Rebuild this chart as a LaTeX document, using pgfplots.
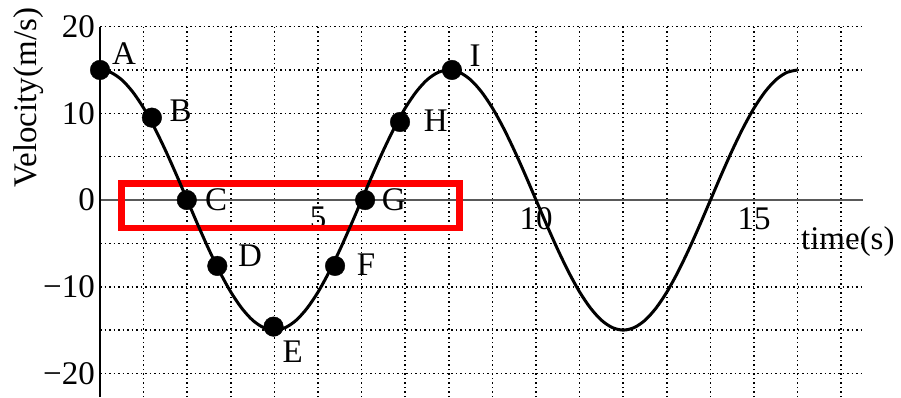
\documentclass[border=0pt]{standalone}
\usepackage{pgfplots}
\pgfplotsset{compat=1.18}
\usepackage{fontspec}
\setmainfont{Liberation Serif}
\newcommand{\bigf}{\fontsize{33}{38}\selectfont}
\begin{document}
\begin{tikzpicture}
\begin{axis}[
  scale only axis, width=763pt, height=370.4pt,
  xmin=0, xmax=17.5, ymin=-22.72, ymax=20,
  axis x line=middle, axis y line=left,
  x axis line style={-, draw=black!65, line width=1.4pt},
  y axis line style={-, draw=black, line width=1.4pt},
  xtick={5,10,15}, xticklabels={5,10,15},
  minor xtick={1,...,17},
  ytick={-20,-10,0,10,20}, yticklabels={−20,−10,0,10,20},
  minor ytick={-15,-5,5,15},
  grid=both,
  major grid style={black, line width=1.6pt, dash pattern=on 1.5pt off 3pt},
  minor grid style={black, line width=1.6pt, dash pattern=on 1.5pt off 3pt},
  major tick length=0pt, minor tick length=0pt,
  tick label style={font=\bigf, inner sep=0pt},
  xticklabel style={anchor=north, yshift=-7pt},
  yticklabel style={anchor=east, xshift=-5pt},
  clip=false,
]
% invisible frame giving the picture its size
\path (axis cs:-2.294,23.07) rectangle (axis cs:18.37,-22.72);
% red box
\addplot[red, line width=6.5pt, line join=miter] coordinates {(0.49,1.9) (8.25,1.9) (8.25,-3.23) (0.49,-3.23)} -- cycle;
% curve
\addplot[black, line width=3pt, smooth] coordinates {
(0,15) (0.25,14.71) (0.5,13.86) (0.75,12.47) (1,10.61) (1.25,8.33) (1.5,5.74) (1.75,2.93)
(2,0) (2.25,-2.93) (2.5,-5.74) (2.75,-8.33) (3,-10.61) (3.25,-12.47) (3.5,-13.86) (3.75,-14.71)
(4,-15) (4.25,-14.71) (4.5,-13.86) (4.75,-12.47) (5,-10.61) (5.25,-8.33) (5.5,-5.74) (5.75,-2.93)
(6,0) (6.25,2.93) (6.5,5.74) (6.75,8.33) (7,10.61) (7.25,12.47) (7.5,13.86) (7.75,14.71)
(8,15) (8.25,14.71) (8.5,13.86) (8.75,12.47) (9,10.61) (9.25,8.33) (9.5,5.74) (9.75,2.93)
(10,0) (10.25,-2.93) (10.5,-5.74) (10.75,-8.33) (11,-10.61) (11.25,-12.47) (11.5,-13.86) (11.75,-14.71)
(12,-15) (12.25,-14.71) (12.5,-13.86) (12.75,-12.47) (13,-10.61) (13.25,-8.33) (13.5,-5.74) (13.75,-2.93)
(14,0) (14.25,2.93) (14.5,5.74) (14.75,8.33) (15,10.61) (15.25,12.47) (15.5,13.86) (15.75,14.71)
(16,15)};
% points
\addplot[only marks, mark=*, mark size=9.8pt, black] coordinates {
(0,15) (1.19,9.5) (1.99,0) (2.69,-7.6) (3.98,-14.6) (5.39,-7.6) (6.08,0) (6.88,9.0) (8.07,15)};
% point labels
\node[font=\bigf] at (axis cs:0.55,16.9) {A};
\node[font=\bigf] at (axis cs:1.85,10.3) {B};
\node[font=\bigf] at (axis cs:2.66,0) {C};
\node[font=\bigf] at (axis cs:3.44,-6.4) {D};
\node[font=\bigf] at (axis cs:4.42,-17.5) {E};
\node[font=\bigf] at (axis cs:6.1,-7.4) {F};
\node[font=\bigf] at (axis cs:6.74,0) {G};
\node[font=\bigf] at (axis cs:7.7,9.2) {H};
\node[font=\bigf] at (axis cs:8.6,16.6) {I};
% axis titles
\node[font=\bigf, rotate=90] at (axis cs:-1.63,11.8) {Velocity(m/s)};
\node[font=\bigf] at (axis cs:17.15,-4.8) {time(s)};
\end{axis}
\end{tikzpicture}
\end{document}
